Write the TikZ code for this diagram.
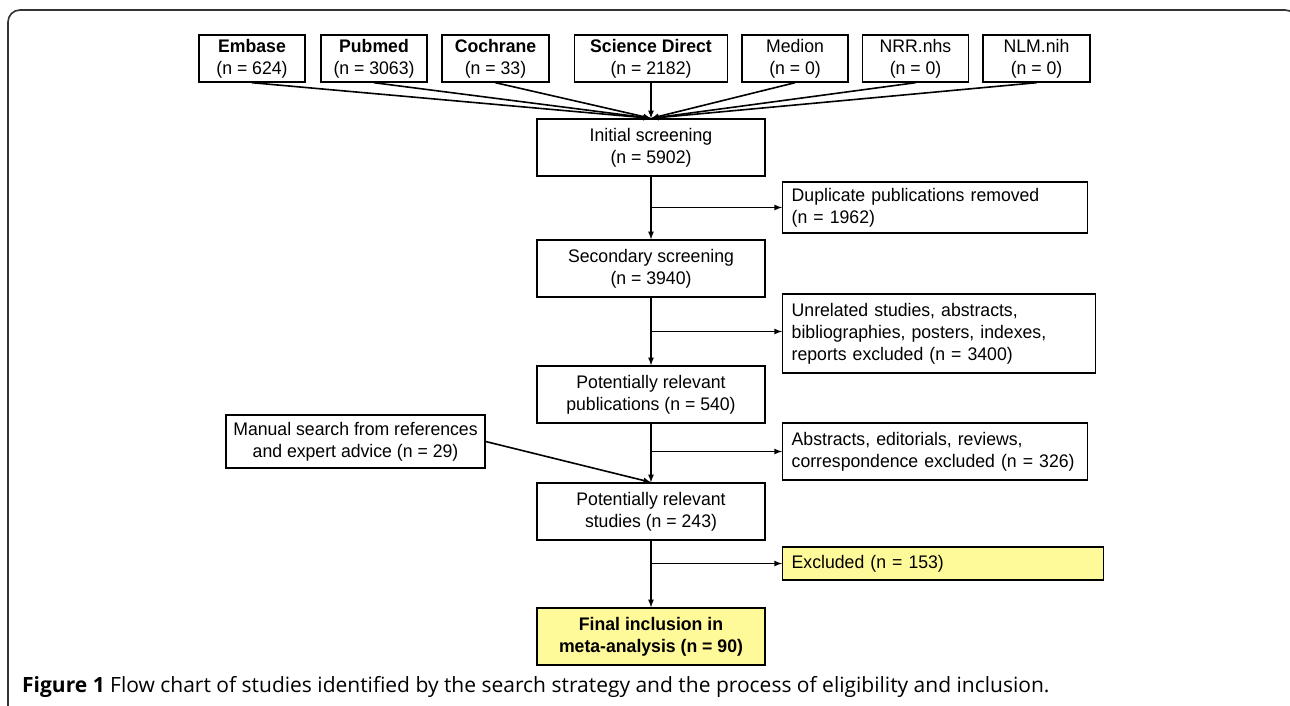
\documentclass[tikz,border=0pt]{standalone}
\usepackage{fontspec}
\setmainfont{Liberation Sans}[FakeStretch=0.97]
\newfontfamily\capfont{Open Sans}
\usetikzlibrary{arrows}

\begin{document}
\begin{tikzpicture}[x=1pt,y=-1pt,>=latex,
    font=\fontsize{18.2}{22}\selectfont,
    box/.style={draw,line width=1.4pt,align=center,inner sep=0pt},
    src/.style={box,minimum height=47pt},
    stage/.style={box,minimum width=228pt,minimum height=57pt},
    side/.style={box,anchor=west,align=left,inner xsep=9pt},
    hi/.style={fill=yellow!40},
    flow/.style={->,line width=1.6pt}
]
    \useasboundingbox (0,0) rectangle (1290,705);
    \begin{scope}
        \clip (0,0) rectangle (1290,705);
        \draw[line width=1.6pt,black!80,rounded corners=12pt]
            (8,720) -- (8,10) -- (1297,10) -- (1297,720);
    \end{scope}
    % databases
    \node [src,minimum width=106pt] (emb) at (252,58.5) {\textbf{Embase}\\(n = 624)};
    \node [src,minimum width=106pt] (pub) at (374,58.5) {\textbf{Pubmed}\\(n = 3063)};
    \node [src,minimum width=107pt] (coch) at (495.5,58.5) {\textbf{Cochrane}\\(n = 33)};
    \node [src,minimum width=153pt] (sd) at (651,58.5) {\textbf{Science Direct}\\(n = 2182)};
    \node [src,minimum width=106pt] (med) at (795,58.5) {Medion\\(n = 0)};
    \node [src,minimum width=106pt] (nrr) at (915.5,58.5) {NRR.nhs\\(n = 0)};
    \node [src,minimum width=107pt] (nlm) at (1036.5,58.5) {NLM.nih\\(n = 0)};
    % main column
    \node [stage] (init) at (651,147.5) {Initial screening\\(n = 5902)};
    \node [stage] (sec) at (651,268.5) {Secondary screening\\(n = 3940)};
    \node [stage] (pubs) at (651,394.5) {Potentially relevant\\publications (n = 540)};
    \node [stage] (stud) at (651,511.5) {Potentially relevant\\studies (n = 243)};
    \node [stage,hi] (fin) at (651,636.5) {\textbf{Final inclusion in}\\\textbf{meta-analysis (n = 90)}};
    % excluded records
    \node [side,minimum width=303pt,minimum height=51pt,text width=287pt] (dup) at (782,207.5)
        {Duplicate publications removed\\(n = 1962)};
    \node [side,minimum width=311pt,minimum height=79pt,text width=295pt] (unrel) at (782,333.5)
        {Unrelated studies, abstracts,\\bibliographies, posters, indexes,\\reports excluded (n = 3400)};
    \node [side,minimum width=303pt,minimum height=57pt,text width=287pt] (abs) at (782,451.5)
        {Abstracts, editorials, reviews,\\correspondence excluded (n = 326)};
    \node [side,hi,minimum width=319pt,minimum height=33pt,text width=303pt] (exc) at (782,563.5)
        {Excluded (n = 153)};
    \node [box,minimum width=259pt,minimum height=53pt] (man) at (355.5,441.5)
        {Manual search from references\\and expert advice (n = 29)};
    % connectors
    \foreach \s in {emb,pub,coch,sd,med,nrr,nlm}
        \draw [flow] (\s.south) -- (init.north);
    \draw [flow] (init) -- (sec);
    \draw [flow] (sec) -- (pubs);
    \draw [flow] (pubs) -- (stud);
    \draw [flow] (stud) -- (fin);
    \draw [flow] (init.south |- dup.west) -- (dup.west);
    \draw [flow] ([yshift=2pt]sec.south |- unrel.west) -- ([yshift=2pt]unrel.west);
    \draw [flow] (pubs.south |- abs.west) -- (abs.west);
    \draw [flow] (stud.south |- exc.west) -- (exc.west);
    \draw [flow] (man.east) -- (stud.north);
    % caption
    \node [anchor=base west,inner sep=0pt,font=\capfont\fontsize{21}{24}\selectfont] (cap) at (22,692)
        {\textbf{Figure 1} Flow chart of studies identified by the search strategy and the process of eligibility and inclusion.};
\end{tikzpicture}
\end{document}
